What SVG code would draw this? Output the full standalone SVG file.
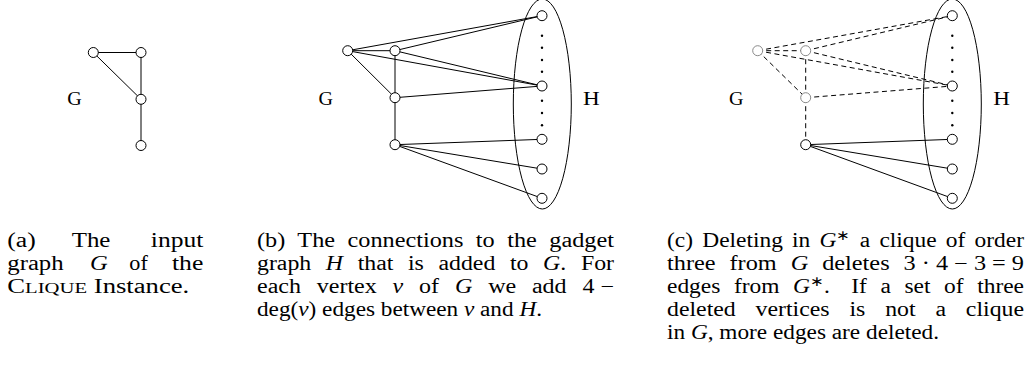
<svg xmlns="http://www.w3.org/2000/svg" width="1030" height="369" viewBox="0 0 1030 369">
<style>
.n{fill:#fff;stroke:#000;stroke-width:1}
.g{fill:#fff;stroke:#8a8a8a;stroke-width:1}
.e{stroke:#000;stroke-width:1;fill:none}
.d{stroke:#000;stroke-width:1;fill:none;stroke-dasharray:5 3.5}
.ell{fill:none;stroke:#000;stroke-width:1}
.dot{fill:#000}
.lbl{font-family:"Liberation Serif",serif;font-size:19px;fill:#000}
.cap{font-family:"Liberation Serif",serif;font-size:20px;fill:#000}
.m{font-style:italic}
</style>

<!-- Panel (a) -->
<g id="a-edges">
<line class="e" x1="93.3" y1="52.5" x2="141" y2="52.5"/>
<line class="e" x1="93.3" y1="52.5" x2="141" y2="99.3"/>
<line class="e" x1="141" y1="52.5" x2="141" y2="99.3"/>
<line class="e" x1="141" y1="99.3" x2="141" y2="145.5"/>
</g>
<g id="a-v1"><circle class="n" cx="93.3" cy="52.5" r="5"/></g>
<g id="a-v2"><circle class="n" cx="141" cy="52.5" r="5"/></g>
<g id="a-v3"><circle class="n" cx="141" cy="99.3" r="5"/></g>
<g id="a-v4"><circle class="n" cx="141" cy="145.5" r="5"/></g>
<g id="a-G"><text class="lbl" x="67.3" y="104.8" textLength="14.5" lengthAdjust="spacingAndGlyphs">G</text></g>

<!-- Panel (b) -->
<g id="b-H"><ellipse class="ell" cx="542.3" cy="104" rx="29" ry="105"/>
<circle class="dot" cx="542" cy="35.7" r="1.2"/><circle class="dot" cx="542" cy="47.7" r="1.2"/><circle class="dot" cx="542" cy="60" r="1.2"/><circle class="dot" cx="542" cy="71.7" r="1.2"/>
<circle class="dot" cx="542" cy="100.7" r="1.2"/><circle class="dot" cx="542" cy="113" r="1.2"/><circle class="dot" cx="542" cy="125.3" r="1.2"/>
<text class="lbl" x="583" y="104.8" textLength="16.7" lengthAdjust="spacingAndGlyphs">H</text></g>
<g id="b-edges">
<line class="e" x1="347.7" y1="50.7" x2="395" y2="50.7"/>
<line class="e" x1="347.7" y1="50.7" x2="395" y2="97.7"/>
<line class="e" x1="395" y1="50.7" x2="395" y2="97.7"/>
<line class="e" x1="395" y1="97.7" x2="395" y2="144.7"/>
<line class="e" x1="347.7" y1="50.7" x2="542" y2="15.7"/>
<line class="e" x1="347.7" y1="50.7" x2="542" y2="86"/>
<line class="e" x1="395" y1="50.7" x2="542" y2="15.7"/>
<line class="e" x1="395" y1="50.7" x2="542" y2="86"/>
<line class="e" x1="395" y1="97.7" x2="542" y2="86"/>
<line class="e" x1="395" y1="144.7" x2="542" y2="139.3"/>
<line class="e" x1="395" y1="144.7" x2="542" y2="169"/>
<line class="e" x1="395" y1="144.7" x2="542" y2="198.3"/>
</g>
<g id="b-v1"><circle class="n" cx="347.7" cy="50.7" r="5"/></g>
<g id="b-v2"><circle class="n" cx="395" cy="50.7" r="5"/></g>
<g id="b-v3"><circle class="n" cx="395" cy="97.7" r="5"/></g>
<g id="b-v4"><circle class="n" cx="395" cy="144.7" r="5"/></g>
<g id="b-h1"><circle class="n" cx="542" cy="15.7" r="5"/></g>
<g id="b-h2"><circle class="n" cx="542" cy="86" r="5"/></g>
<g id="b-h3"><circle class="n" cx="542" cy="139.3" r="5"/></g>
<g id="b-h4"><circle class="n" cx="542" cy="169" r="5"/></g>
<g id="b-h5"><circle class="n" cx="542" cy="198.3" r="5"/></g>
<g id="b-G"><text class="lbl" x="318.5" y="104.8" textLength="14.5" lengthAdjust="spacingAndGlyphs">G</text></g>

<!-- Panel (c) -->
<g id="c-H"><ellipse class="ell" cx="952.3" cy="104" rx="29" ry="105"/>
<circle class="dot" cx="952.3" cy="35.7" r="1.2"/><circle class="dot" cx="952.3" cy="47.7" r="1.2"/><circle class="dot" cx="952.3" cy="60" r="1.2"/><circle class="dot" cx="952.3" cy="71.7" r="1.2"/>
<circle class="dot" cx="952.3" cy="100.7" r="1.2"/><circle class="dot" cx="952.3" cy="113" r="1.2"/><circle class="dot" cx="952.3" cy="125.3" r="1.2"/>
<text class="lbl" x="993.3" y="104.8" textLength="16.7" lengthAdjust="spacingAndGlyphs">H</text></g>
<g id="c-edges">
<line class="d" x1="757.7" y1="50.7" x2="805.7" y2="50.7"/>
<line class="d" x1="757.7" y1="50.7" x2="805.7" y2="97.7"/>
<line class="d" x1="805.7" y1="50.7" x2="805.7" y2="97.7"/>
<line class="d" x1="805.7" y1="97.7" x2="805.7" y2="144.7"/>
<line class="d" x1="757.7" y1="50.7" x2="952.3" y2="15.7"/>
<line class="d" x1="757.7" y1="50.7" x2="952.3" y2="86"/>
<line class="d" x1="805.7" y1="50.7" x2="952.3" y2="15.7"/>
<line class="d" x1="805.7" y1="50.7" x2="952.3" y2="86"/>
<line class="d" x1="805.7" y1="97.7" x2="952.3" y2="86"/>
<line class="e" x1="805.7" y1="144.7" x2="952.3" y2="139.3"/>
<line class="e" x1="805.7" y1="144.7" x2="952.3" y2="169"/>
<line class="e" x1="805.7" y1="144.7" x2="952.3" y2="198.3"/>
</g>
<g id="c-v1"><circle class="g" cx="757.7" cy="50.7" r="5"/></g>
<g id="c-v2"><circle class="g" cx="805.7" cy="50.7" r="5"/></g>
<g id="c-v3"><circle class="g" cx="805.7" cy="97.7" r="5"/></g>
<g id="c-v4"><circle class="n" cx="805.7" cy="144.7" r="5"/></g>
<g id="c-h1"><circle class="n" cx="952.3" cy="15.7" r="5"/></g>
<g id="c-h2"><circle class="n" cx="952.3" cy="86" r="5"/></g>
<g id="c-h3"><circle class="n" cx="952.3" cy="139.3" r="5"/></g>
<g id="c-h4"><circle class="n" cx="952.3" cy="169" r="5"/></g>
<g id="c-h5"><circle class="n" cx="952.3" cy="198.3" r="5"/></g>
<g id="c-G"><text class="lbl" x="729" y="104.8" textLength="14.5" lengthAdjust="spacingAndGlyphs">G</text></g>

<!-- Captions -->
<g id="cap-a" class="cap">
<text x="7.3" y="247" textLength="28.5" lengthAdjust="spacingAndGlyphs">(a)</text>
<text x="71.7" y="247" textLength="38.7" lengthAdjust="spacingAndGlyphs">The</text>
<text x="150.8" y="247" textLength="52.5" lengthAdjust="spacingAndGlyphs">input</text>
<text x="7.3" y="270" textLength="56.3" lengthAdjust="spacingAndGlyphs">graph</text>
<text x="90" y="270" class="m" textLength="17.7" lengthAdjust="spacingAndGlyphs">G</text>
<text x="129.3" y="270" textLength="18.5" lengthAdjust="spacingAndGlyphs">of</text>
<text x="172" y="270" textLength="31.3" lengthAdjust="spacingAndGlyphs">the</text>
<text x="7.3" y="293" textLength="182" lengthAdjust="spacingAndGlyphs">C<tspan font-size="15.5">LIQUE</tspan> Instance.</text>
</g>
<g id="cap-b" class="cap">
<text x="257" y="247" word-spacing="5.3" textLength="357" lengthAdjust="spacingAndGlyphs">(b) The connections to the gadget</text>
<text x="257" y="270" word-spacing="7.3" textLength="357" lengthAdjust="spacingAndGlyphs">graph <tspan class="m">H</tspan> that is added to <tspan class="m">G</tspan>. For</text>
<text x="257" y="293" word-spacing="8.2" textLength="357" lengthAdjust="spacingAndGlyphs">each vertex <tspan class="m">v</tspan> of <tspan class="m">G</tspan> we add 4&#x2005;−</text>
<text x="257" y="316" textLength="285" lengthAdjust="spacingAndGlyphs">deg(<tspan class="m">v</tspan>) edges between <tspan class="m">v</tspan> and <tspan class="m">H</tspan>.</text>
</g>
<g id="cap-c" class="cap">
<text x="667" y="247" word-spacing="2.9" textLength="357" lengthAdjust="spacingAndGlyphs">(c) Deleting in <tspan class="m">G</tspan><tspan dy="-7" font-size="14">∗</tspan><tspan dy="7"> a clique of order</tspan></text>
<text x="667" y="270" word-spacing="6.5" textLength="357" lengthAdjust="spacingAndGlyphs">three from <tspan class="m">G</tspan> deletes 3&#x2005;·&#x2005;4&#x2005;−&#x2005;3&#x2005;=&#x2005;9</text>
<text x="667" y="293" word-spacing="6.6" textLength="357" lengthAdjust="spacingAndGlyphs">edges from <tspan class="m">G</tspan><tspan dy="-7" font-size="14">∗</tspan><tspan dy="7">.&#x2004; If a set of three</tspan></text>
<text x="667" y="316" word-spacing="11.7" textLength="357" lengthAdjust="spacingAndGlyphs">deleted vertices is not a clique</text>
<text x="667" y="339" textLength="272" lengthAdjust="spacingAndGlyphs">in <tspan class="m">G</tspan>, more edges are deleted.</text>
</g>
</svg>
